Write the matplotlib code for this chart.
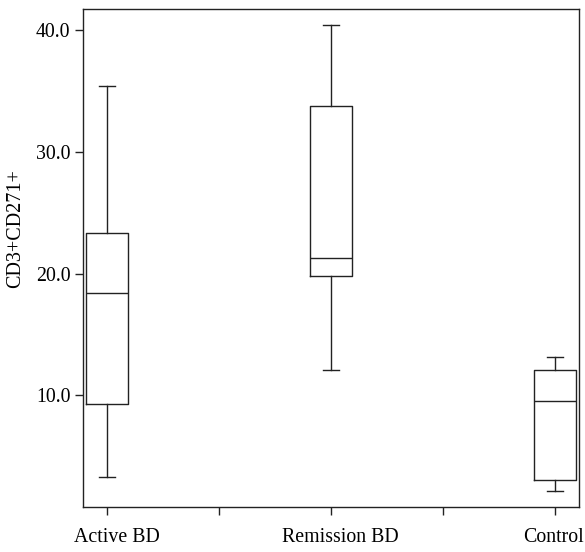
import matplotlib
matplotlib.use("Agg")
import matplotlib.pyplot as plt
from matplotlib.transforms import ScaledTranslation

categories = ["Active BD", "Remission BD", "Control"]
whislo = [3.3, 12.1, 2.1]
q1 = [9.3, 19.8, 3.0]
med = [18.4, 21.3, 9.5]
q3 = [23.3, 33.8, 12.1]
whishi = [35.4, 40.4, 13.1]
y_ticks = [10, 20, 30, 40]
y_ticklabels = ["10.0", "20.0", "30.0", "40.0"]

plt.rcParams['font.family'] = ['Liberation Serif', 'DejaVu Serif']

fig = plt.figure(figsize=(5.85, 5.52), dpi=100)
ax = fig.add_axes([83/585, 45/552, (579-83)/585, (507-9)/552])

stats = []
for i, c in enumerate(categories):
    stats.append(dict(label=c, whislo=whislo[i], q1=q1[i], med=med[i],
                      q3=q3[i], whishi=whishi[i], fliers=[]))

lc = '#222222'
lw = 1.0
ax.bxp(stats, positions=range(len(categories)), widths=0.19, capwidths=0.075,
       showfliers=False,
       boxprops=dict(color=lc, linewidth=lw),
       medianprops=dict(color=lc, linewidth=lw),
       whiskerprops=dict(color=lc, linewidth=lw),
       capprops=dict(color=lc, linewidth=lw))

ax.set_xlim(-0.107, 2.107)
ax.set_ylim(0.8, 41.75)
ax.set_xticks([0, 0.5, 1, 1.5, 2])
ax.set_xticklabels([categories[0], "", categories[1], "", categories[2]])
ax.set_yticks(y_ticks)
ax.set_yticklabels(y_ticklabels)
ax.set_ylabel("CD3+CD271+", fontsize=14.5)
ax.yaxis.set_label_coords(-0.117, 0.56)

for s in ax.spines.values():
    s.set_color(lc)
    s.set_linewidth(lw)
ax.tick_params(axis='both', labelsize=14.3, length=6, width=lw, color=lc, pad=3)
ax.tick_params(axis='x', pad=9)

offsets_px = [9.5, 0, 9, 0, -2]
for lab, dx in zip(ax.get_xticklabels(), offsets_px):
    lab.set_transform(lab.get_transform() + ScaledTranslation(dx / 100, 0, fig.dpi_scale_trans))

fig.savefig("out.png", dpi=100)
